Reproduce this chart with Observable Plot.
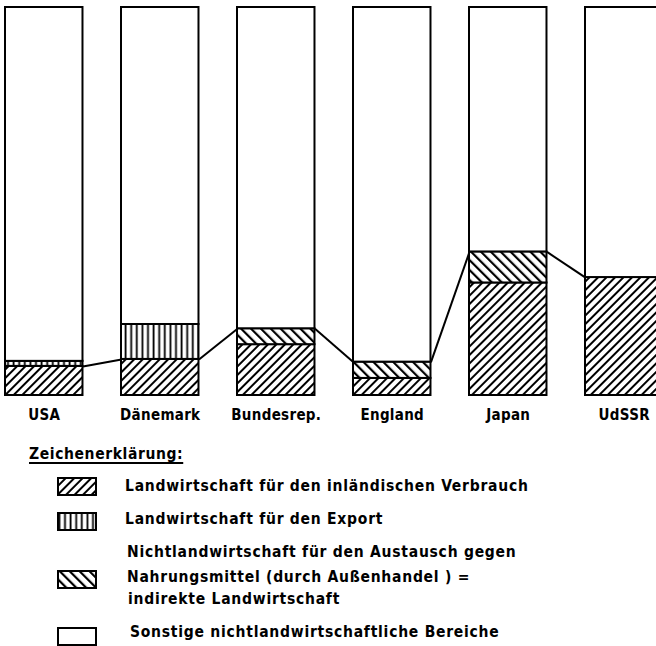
<!DOCTYPE html>
<html>
<head>
<meta charset="utf-8">
<script src="https://cdn.jsdelivr.net/npm/d3@7"></script>
<script src="https://cdn.jsdelivr.net/npm/@observablehq/plot@0.6"></script>
<style>
  html, body { margin: 0; padding: 0; background: #fff; overflow: hidden; }
  #chart svg { display: block; }
  #legend { position: relative; width: 656px; height: 216px; font-family: "DejaVu Sans Condensed", "DejaVu Sans", sans-serif; font-weight: bold; color: #000; }
  #legend .t { position: absolute; font-size: 15.5px; letter-spacing: 0.75px; white-space: pre; line-height: 1; }
  #legend .sw { position: absolute; left: 57px; }
</style>
</head>
<body>
<svg width="0" height="0" style="position:absolute">
  <defs>
    <pattern id="p-inland" patternUnits="userSpaceOnUse" width="6" height="6" patternTransform="rotate(45)">
      <rect x="0" y="0" width="6" height="6" fill="#fff"></rect>
      <rect x="0" y="0" width="2" height="6" fill="#000"></rect>
    </pattern>
    <pattern id="p-export" patternUnits="userSpaceOnUse" width="5.6" height="6">
      <rect x="0" y="0" width="5.6" height="6" fill="#fff"></rect>
      <rect x="1.5" y="0" width="1.8" height="6" fill="#000"></rect>
    </pattern>
    <pattern id="p-indirect" patternUnits="userSpaceOnUse" width="7" height="7" patternTransform="rotate(-45)">
      <rect x="0" y="0" width="7" height="7" fill="#fff"></rect>
      <rect x="0" y="0" width="2.2" height="7" fill="#000"></rect>
    </pattern>
  </defs>
</svg>
<div id="chart"></div>
<div id="legend"></div>
<script>
// ---- data (percent of total workforce) ----
const countries = ["USA", "Dänemark", "Bundesrep.", "England", "Japan", "UdSSR"];
const inland    = [7.5, 9.3, 13.1, 4.4, 29.0, 30.4];   // Landwirtschaft für den inländischen Verbrauch
const exports   = [1.3, 9.0, 0, 0, 0, 0];               // Landwirtschaft für den Export
const indirect  = [0, 0, 4.1, 4.2, 8.0, 0];             // indirekte Landwirtschaft
const categories = ["inland", "export", "indirect", "other"];
const legendLabels = [
  ["Landwirtschaft für den inländischen Verbrauch"],
  ["Landwirtschaft für den Export"],
  ["Nichtlandwirtschaft für den Austausch gegen", "Nahrungsmittel (durch Außenhandel ) =", "indirekte Landwirtschaft"],
  ["Sonstige nichtlandwirtschaftliche Bereiche"]
];
const legendTitle = "Zeichenerklärung:";

// ---- derived tables ----
const fills = {inland: "url(#p-inland)", export: "url(#p-export)", indirect: "url(#p-indirect)", other: "#fff"};
const barW = 0.668;
const segments = [];
countries.forEach((c, i) => {
  const vals = {inland: inland[i], export: exports[i], indirect: indirect[i]};
  vals.other = 100 - vals.inland - vals.export - vals.indirect;
  let y = 0;
  for (const k of ["inland", "export", "indirect", "other"]) {
    if (vals[k] > 0) segments.push({country: c, i, cat: k, y1: y, y2: y + vals[k]});
    y += vals[k];
  }
});
const food = countries.map((c, i) => inland[i] + indirect[i]);
const links = countries.slice(1).map((c, j) => ({from: j, to: j + 1, a: food[j], b: food[j + 1]}));

const plot = Plot.plot({
  width: 656,
  height: 430,
  marginLeft: 5,
  marginRight: 0,
  marginTop: 7,
  marginBottom: 35,
  style: {fontFamily: "'DejaVu Sans Condensed', 'DejaVu Sans', sans-serif", fontWeight: "bold", fontSize: "15px", overflow: "hidden", background: "#fff"},
  x: {domain: [0, 651 / 116], axis: null},
  y: {domain: [0, 100], axis: null},
  marks: [
    Plot.rect(segments, {
      x1: d => d.i, x2: d => d.i + barW, y1: "y1", y2: "y2",
      fill: d => fills[d.cat], stroke: "#000", strokeWidth: 2
    }),
    Plot.link(links, {
      x1: d => d.from + barW, y1: "a", x2: d => d.to, y2: "b",
      stroke: "#000", strokeWidth: 2
    }),
    Plot.text(countries, {
      x: (d, i) => i + barW / 2, y: () => 0, text: d => d,
      dy: 20, fill: "#000"
    })
  ]
});
document.getElementById("chart").append(plot);
d3.select(plot).selectAll("text").style("letter-spacing", "0.3px");

// ---- legend ----
const leg = d3.select("#legend");
const top0 = 430;
const fs = 15.5;
const base = b => (b - top0 - 0.846 * fs) + "px";
leg.append("div").attr("class", "t").style("left", "29px").style("top", base(460))
  .style("letter-spacing", "0.6px")
  .style("text-decoration", "underline").style("text-underline-offset", "3px")
  .style("text-decoration-thickness", "2px").text(legendTitle);

const swTops = [477, 512, 570, 627];
const textBases = [[492], [525], [558, 583, 605], [638]];
const textLefts = [[125], [125], [127, 127, 128], [130]];
categories.forEach((k, j) => {
  const sw = leg.append("svg").attr("class", "sw").attr("width", 40).attr("height", 19)
    .style("top", (swTops[j] - top0) + "px");
  sw.append("rect").attr("x", 1).attr("y", 1).attr("width", 38).attr("height", 17)
    .attr("fill", fills[k]).attr("stroke", "#000").attr("stroke-width", 2);
  legendLabels[j].forEach((line, m) => {
    leg.append("div").attr("class", "t")
      .style("left", textLefts[j][m] + "px")
      .style("top", base(textBases[j][m]))
      .text(line);
  });
});
</script>
</body>
</html>
